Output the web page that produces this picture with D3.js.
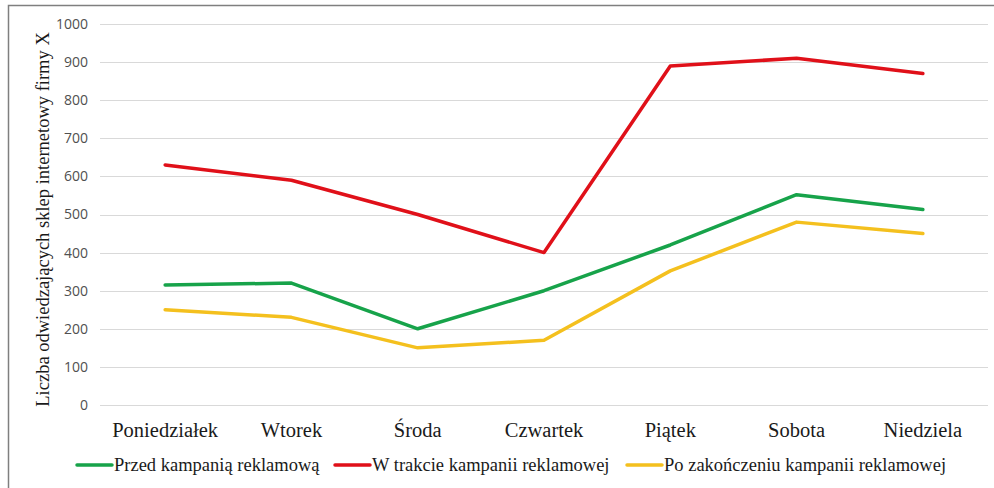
<!DOCTYPE html>
<html>
<head>
<meta charset="utf-8">
<script src="https://cdn.jsdelivr.net/npm/d3@7"></script>
<style>
  body { margin: 0; background: #fff; }
  svg { display: block; }
</style>
</head>
<body>
<svg></svg>
<script>
// dni tygodnia
var days = ["Poniedziałek", "Wtorek", "Środa", "Czwartek", "Piątek", "Sobota", "Niedziela"];
// serie
var przed = [315, 320, 200, 300, 420, 552, 513];
var wTrakcie = [630, 590, 500, 400, 890, 910, 870];
var po = [250, 230, 150, 170, 352, 480, 450];
var seriesNames = ["Przed kampanią reklamową", "W trakcie kampanii reklamowej", "Po zakończeniu kampanii reklamowej"];
var yTicks = [0, 100, 200, 300, 400, 500, 600, 700, 800, 900, 1000];
var yTitle = "Liczba odwiedzających sklep internetowy firmy X";

var svgWidth = 994;
var svgHeight = 488;
var colors = ["#17a34a", "#e01019", "#f4c01e"];
var serif = "'Liberation Serif', 'Times New Roman', serif";

var svg = d3.select("svg")
    .attr("width", svgWidth)
    .attr("height", svgHeight);

// ramka
svg.append("path")
    .attr("d", "M8.5,488 L8.5,5.5 L994,5.5")
    .attr("fill", "none")
    .attr("stroke", "#7f7f7f")
    .attr("stroke-width", 1.5);

var x = d3.scaleBand().domain(days).range([102, 986]);
var y = d3.scaleLinear().domain([0, 1000]).range([405, 24]);

// linie siatki
svg.append("g")
    .selectAll("line")
    .data(yTicks)
    .enter()
    .append("line")
    .attr("x1", 100)
    .attr("x2", 988)
    .attr("y1", function(d) { return Math.round(y(d)) + 0.5; })
    .attr("y2", function(d) { return Math.round(y(d)) + 0.5; })
    .attr("stroke", "#d9d9d9")
    .attr("stroke-width", 1);

// etykiety osi Y
svg.append("g")
    .selectAll("text")
    .data(yTicks)
    .enter()
    .append("text")
    .attr("x", 88)
    .attr("y", function(d) { return y(d); })
    .attr("dy", "0.35em")
    .attr("text-anchor", "end")
    .attr("font-family", "'Open Sans', 'Liberation Sans', sans-serif")
    .attr("font-size", 14)
    .attr("fill", "#505050")
    .text(function(d) { return d; });

// etykiety osi X
svg.append("g")
    .selectAll("text")
    .data(days)
    .enter()
    .append("text")
    .attr("x", function(d) { return x(d) + x.bandwidth() / 2; })
    .attr("y", 437)
    .attr("text-anchor", "middle")
    .attr("font-family", serif)
    .attr("font-size", 20.5)
    .attr("fill", "#1a1a1a")
    .text(function(d) { return d; });

// tytuł osi Y
svg.append("text")
    .attr("transform", "translate(49," + ((34 + 405) / 2) + ") rotate(-90)")
    .attr("text-anchor", "middle")
    .attr("font-family", serif)
    .attr("font-size", 18.5)
    .attr("fill", "#1a1a1a")
    .text(yTitle);

// linie serii
var allSeries = [przed, wTrakcie, po];
var line = d3.line()
    .x(function(d, i) { return x(days[i]) + x.bandwidth() / 2; })
    .y(function(d) { return y(d); });

svg.append("g")
    .selectAll("path")
    .data(allSeries)
    .enter()
    .append("path")
    .attr("d", line)
    .attr("fill", "none")
    .attr("stroke", function(d, i) { return colors[i]; })
    .attr("stroke-width", 3.5)
    .attr("stroke-linejoin", "round")
    .attr("stroke-linecap", "round");

// legenda
var legendX = [77, 335, 627];
var legend = svg.append("g")
    .selectAll("g")
    .data(seriesNames)
    .enter()
    .append("g")
    .attr("transform", function(d, i) { return "translate(" + legendX[i] + ",465)"; });

legend.append("line")
    .attr("x1", 0)
    .attr("x2", 35)
    .attr("stroke", function(d, i) { return colors[i]; })
    .attr("stroke-width", 3.5)
    .attr("stroke-linecap", "round");

legend.append("text")
    .attr("x", 37)
    .attr("y", 0)
    .attr("dy", "0.35em")
    .attr("font-family", serif)
    .attr("font-size", 18.5)
    .attr("fill", "#1a1a1a")
    .text(function(d) { return d; });
</script>
</body>
</html>
